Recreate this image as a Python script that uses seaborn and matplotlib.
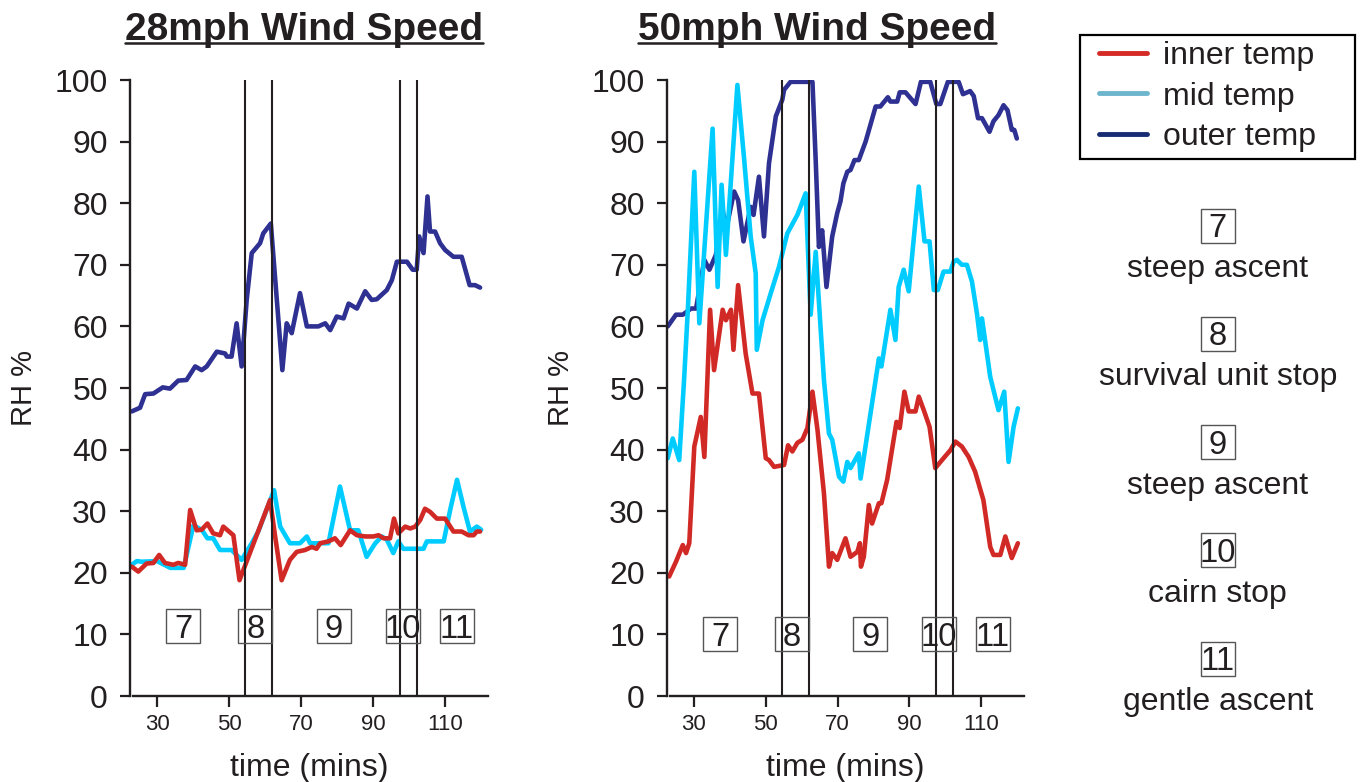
import numpy as np
import pandas as pd
import matplotlib
matplotlib.use('Agg')
import matplotlib.pyplot as plt
import matplotlib.transforms as mtransforms
from matplotlib.patches import Rectangle
from matplotlib.lines import Line2D
import seaborn as sns

# ---- datos ----
# 28 mph
outer28_t = [23.0, 25.3, 26.7, 29.0, 31.6, 33.6, 35.9, 38.2, 40.6, 42.4, 43.8, 46.6, 48.9, 49.4, 50.7,
             52.1, 53.5, 54.9, 56.3, 58.6, 59.5, 61.6, 64.8, 66.0, 67.4, 69.7, 71.6, 74.8, 76.7, 78.1,
             79.9, 81.8, 83.2, 85.5, 87.8, 89.6, 91.0, 93.8, 95.2, 96.6, 99.4, 101.0, 102.1, 102.8, 104.0,
             105.1, 105.8, 107.2, 108.6, 110.0, 112.3, 114.6, 116.8, 118.3, 119.7]
outer28 = [46.2, 46.8, 49.0, 49.1, 50.1, 49.9, 51.2, 51.3, 53.5, 52.9, 53.5, 55.9, 55.6, 55.1, 55.1,
           60.5, 53.5, 64.3, 71.9, 73.5, 75.1, 76.7, 52.9, 60.5, 58.9, 65.4, 60.0, 60.0, 60.5, 59.4,
           61.6, 61.3, 63.7, 62.9, 65.7, 64.3, 64.4, 65.9, 67.5, 70.5, 70.5, 69.2, 69.2, 74.6, 71.9,
           81.1, 75.4, 75.4, 73.5, 72.4, 71.3, 71.3, 66.7, 66.7, 66.3]

inner28_t = [23.0, 24.8, 27.1, 29.0, 30.6, 32.2, 34.5, 35.9, 37.8, 39.2, 41.0, 42.4, 44.0, 45.6, 47.5,
             48.4, 51.2, 52.9, 61.4, 62.8, 64.6, 66.9, 68.8, 71.1, 73.0, 74.3, 75.3, 77.6, 79.4, 81.0,
             83.6, 85.5, 87.8, 90.1, 91.5, 92.9, 94.7, 95.8, 97.0, 98.9, 100.3, 101.7, 103.1, 104.4, 105.8,
             107.7, 110.0, 112.3, 114.6, 116.5, 117.9, 118.8, 119.7]
inner28 = [21.0, 20.2, 21.5, 21.6, 22.9, 21.6, 21.3, 21.6, 21.3, 30.2, 26.9, 27.0, 28.0, 26.4, 26.1,
           27.5, 26.1, 18.8, 31.8, 25.9, 18.8, 22.1, 23.4, 23.7, 24.2, 23.9, 24.8, 25.1, 25.6, 24.5,
           26.9, 26.1, 25.9, 25.9, 26.1, 25.6, 25.6, 28.8, 26.4, 27.5, 27.2, 27.5, 28.6, 30.4, 29.9,
           28.8, 28.8, 26.7, 26.7, 26.1, 26.1, 26.7, 26.7]

mid28_t = [23.0, 24.4, 25.8, 30.0, 33.7, 37.4, 40.1, 42.4, 44.0, 45.6, 47.5, 50.7, 53.5, 56.3, 58.1,
           62.5, 64.2, 66.9, 69.7, 71.6, 72.5, 77.6, 80.8, 83.6, 85.9, 88.2, 90.6, 92.4, 93.8, 95.6,
           97.0, 98.4, 104.0, 104.9, 109.6, 111.4, 113.3, 115.1, 116.9, 118.8, 120.0]
mid28 = [21.3, 21.9, 21.8, 21.9, 20.8, 20.8, 27.7, 27.0, 25.6, 25.6, 23.7, 23.7, 22.1, 24.8, 26.7,
         33.4, 27.5, 24.8, 24.8, 25.9, 24.8, 24.8, 34.0, 26.9, 26.9, 22.6, 24.8, 25.9, 25.4, 23.2,
         25.1, 23.9, 23.9, 25.1, 25.1, 30.2, 35.1, 30.7, 26.7, 27.5, 27.0]

# 50 mph
outer50_t = [22.7, 25.0, 26.9, 29.2, 30.6, 32.9, 34.3, 36.1, 38.0, 38.9, 41.2, 42.3, 43.8, 45.8, 46.6,
             48.1, 49.5, 50.9, 52.8, 54.6, 55.1, 56.9, 63.0, 63.9, 64.8, 65.7, 66.9, 68.5, 69.9, 70.8,
             71.6, 72.7, 73.6, 74.7, 75.9, 77.8, 80.6, 81.9, 84.0, 84.7, 86.6, 87.3, 88.9, 91.7, 93.2,
             95.8, 97.5, 98.6, 100.7, 103.7, 104.9, 106.9, 107.9, 109.1, 110.2, 112.3, 113.4, 114.8, 116.2, 117.3,
             118.5, 119.2, 119.9]
outer50 = [60.0, 61.9, 61.9, 62.9, 62.9, 70.8, 69.2, 71.6, 78.9, 75.6, 81.9, 80.5, 73.8, 79.4, 78.1,
           84.3, 74.6, 86.5, 94.1, 96.8, 98.4, 99.7, 99.7, 87.0, 72.9, 75.6, 66.4, 74.6, 78.4, 80.3,
           83.2, 85.1, 85.4, 87.0, 87.0, 90.0, 95.7, 95.7, 97.2, 96.5, 96.5, 98.0, 98.0, 96.1, 99.7,
           99.7, 96.1, 96.1, 99.7, 99.7, 97.7, 98.2, 97.4, 93.8, 93.8, 91.6, 93.3, 94.3, 95.9, 95.1,
           91.9, 91.9, 90.5]

mid50_t = [22.7, 24.1, 25.9, 27.3, 28.3, 30.1, 31.5, 35.2, 36.6, 37.7, 38.9, 42.1, 44.0, 45.8, 47.2,
           47.5, 49.1, 51.4, 53.7, 56.0, 58.8, 61.1, 62.5, 63.9, 66.2, 67.6, 68.5, 70.4, 71.6, 72.7,
           73.6, 75.9, 76.4, 81.5, 82.2, 84.7, 86.1, 87.0, 88.4, 89.8, 92.6, 94.2, 95.6, 96.8, 97.9,
           99.5, 101.4, 102.3, 103.2, 104.6, 106.0, 107.4, 108.8, 109.7, 110.2, 112.5, 114.8, 116.4, 117.6, 119.0,
           120.2]
mid50 = [38.6, 41.8, 38.3, 51.8, 62.7, 85.1, 60.5, 92.1, 66.4, 83.0, 71.6, 99.2, 87.0, 74.6, 68.6,
         56.2, 61.0, 65.4, 69.7, 75.1, 78.1, 81.6, 61.9, 72.1, 51.3, 42.6, 41.6, 35.6, 34.8, 38.0,
         37.0, 39.4, 35.3, 54.8, 53.5, 62.7, 57.8, 66.4, 69.2, 65.7, 82.7, 73.8, 73.8, 65.9, 65.9,
         68.9, 68.9, 70.5, 70.8, 70.0, 70.0, 67.3, 62.1, 57.8, 61.3, 51.8, 46.4, 49.4, 38.0, 43.7,
         46.7]

inner50_t = [23.1, 25.0, 26.9, 27.8, 28.7, 30.1, 31.9, 32.9, 34.5, 35.6, 38.0, 38.9, 40.3, 41.0, 42.3,
             44.4, 46.3, 48.1, 50.0, 50.9, 52.3, 55.1, 56.2, 57.4, 58.8, 60.2, 61.6, 63.0, 64.4, 66.2,
             67.6, 68.5, 69.9, 72.2, 73.6, 75.5, 76.2, 76.5, 77.3, 78.7, 79.6, 81.5, 82.2, 83.8, 86.4,
             87.3, 88.6, 89.8, 91.7, 92.6, 94.0, 95.6, 97.2, 99.5, 101.4, 102.8, 104.6, 106.5, 108.3, 110.6,
             112.5, 113.4, 115.3, 116.7, 118.5, 120.2]
inner50 = [19.4, 21.8, 24.5, 23.2, 24.8, 40.5, 45.3, 38.8, 62.7, 52.9, 62.7, 61.0, 62.7, 56.2, 66.7,
           55.6, 49.1, 49.1, 38.6, 38.3, 37.2, 37.5, 40.7, 39.7, 41.1, 41.6, 43.5, 49.4, 43.2, 32.9,
           21.0, 23.2, 22.1, 25.6, 22.6, 23.4, 24.8, 21.0, 22.6, 31.0, 28.0, 31.3, 31.3, 35.1, 44.5,
           43.5, 49.4, 46.2, 46.2, 48.6, 46.4, 43.7, 37.0, 38.6, 39.9, 41.3, 40.5, 38.8, 36.4, 31.8,
           24.2, 22.9, 22.9, 25.9, 22.4, 24.8]

# marcas de etapa (minutos) y etiquetas
limites = [54.4, 62.0, 97.4, 102.1]
etapas = ['7', '8', '9', '10', '11']
etapas_x = [37.3, 57.3, 79.1, 98.2, 113.2]
etapas_desc = ['steep ascent', 'survival unit stop', 'steep ascent', 'cairn stop', 'gentle ascent']

series = ['inner temp', 'mid temp', 'outer temp']
colores = {'inner temp': '#d12a26', 'mid temp': '#00ccff', 'outer temp': '#2e3192'}
colores_leyenda = ['#d42b27', '#6db5cc', '#172c72']

negro = '#231f20'

sns.set_style('ticks')
plt.rcParams['font.family'] = ['Liberation Sans', 'DejaVu Sans']
plt.rcParams['text.color'] = negro
plt.rcParams['axes.labelcolor'] = negro
plt.rcParams['xtick.color'] = negro
plt.rcParams['ytick.color'] = negro
plt.rcParams['axes.edgecolor'] = negro


def tabla(pares):
    filas = []
    for nombre, t, v in pares:
        filas.append(pd.DataFrame({'time': t, 'rh': v, 'sensor': nombre}))
    return pd.concat(filas, ignore_index=True)


df28 = tabla([('outer temp', outer28_t, outer28), ('mid temp', mid28_t, mid28), ('inner temp', inner28_t, inner28)])
df50 = tabla([('outer temp', outer50_t, outer50), ('mid temp', mid50_t, mid50), ('inner temp', inner50_t, inner50)])

W, H = 1364, 782
fig = plt.figure(figsize=(W / 100, H / 100), dpi=100)

ax1 = fig.add_axes([130 / W, 1 - 696 / H, 358 / W, 616 / H])
ax2 = fig.add_axes([667 / W, 1 - 696 / H, 357 / W, 616 / H])


def caja(x, y, s, base_trans, dest):
    # caja cuadrada de tamano fijo con el numero centrado
    trans = fig.dpi_scale_trans + mtransforms.ScaledTranslation(x, y, base_trans)
    rect = Rectangle((-0.17, -0.17), 0.34, 0.34, transform=trans, fill=False,
                     edgecolor='#555555', linewidth=1.0, zorder=4)
    dest.add_artist(rect)
    dest.text(0, -0.115, s, transform=trans, ha='center', va='baseline', fontsize=23.5, zorder=5)


for ax, df, y_caja in [(ax1, df28, 11.3), (ax2, df50, 10.0)]:
    sns.lineplot(data=df, x='time', y='rh', hue='sensor', palette=colores, estimator=None,
                 sort=False, linewidth=3.3, legend=False, ax=ax)
    for xv in limites:
        ax.axvline(xv, color=negro, linewidth=1.5, zorder=3)
    ax.set_xlim(22.5, 121.9)
    ax.set_ylim(0, 100)
    ax.set_xticks([30, 50, 70, 90, 110])
    ax.set_yticks(range(0, 101, 10))
    ax.tick_params(axis='y', labelsize=23, length=7, width=1.6, pad=9)
    ax.tick_params(axis='x', labelsize=16, length=8, width=1.6, pad=5)
    for lado in ['top', 'right']:
        ax.spines[lado].set_visible(False)
    for lado in ['left', 'bottom']:
        ax.spines[lado].set_linewidth(1.7)
    ax.spines['bottom'].set_bounds(23.3, 121.9)
    ax.set_xlabel('time (mins)', fontsize=23, labelpad=13)
    ax.set_ylabel('RH %', fontsize=21, labelpad=12)
    for s, xv in zip(etapas, etapas_x):
        caja(xv, y_caja, s, ax.transData, ax)

# titulos subrayados
titulos = []
for texto, xc in [('28mph Wind Speed', 304), ('50mph Wind Speed', 817)]:
    titulos.append(fig.text(xc / W, 1 - 40 / H, texto, ha='center', va='baseline',
                            fontsize=28, fontweight='bold'))

# leyenda (marco dibujado aparte para ajustar los margenes)
manejadores = [Line2D([0], [0], color=c, linewidth=3.5) for c in colores_leyenda]
ley = fig.legend(manejadores, series, loc='upper left', bbox_to_anchor=(1099 / W, 1 - 41 / H),
                 fontsize=23, frameon=False, handlelength=1.5, handletextpad=0.5,
                 labelspacing=0.33, borderpad=0, borderaxespad=0)
fig.add_artist(Rectangle((1080 / W, 1 - 159 / H), 275 / W, 124 / H, transform=fig.transFigure,
                         fill=False, edgecolor='black', linewidth=1.6))

# descripcion de etapas a la derecha
for i, (s, desc) in enumerate(zip(etapas, etapas_desc)):
    yb = 225.5 + 108.3 * i
    caja(1217.7 / W, 1 - yb / H, s, fig.transFigure, fig)
    fig.text(1217.7 / W, 1 - (277 + 108.3 * i) / H, desc, ha='center', va='baseline', fontsize=23)

fig.canvas.draw()
rend = fig.canvas.get_renderer()
for t in titulos:
    bb = t.get_window_extent(rend)
    yl = (H - 43) / H
    fig.add_artist(Line2D([bb.x0 / W, bb.x1 / W], [yl, yl], transform=fig.transFigure,
                          color=negro, linewidth=1.8))

fig.savefig('out.png', dpi=100)
